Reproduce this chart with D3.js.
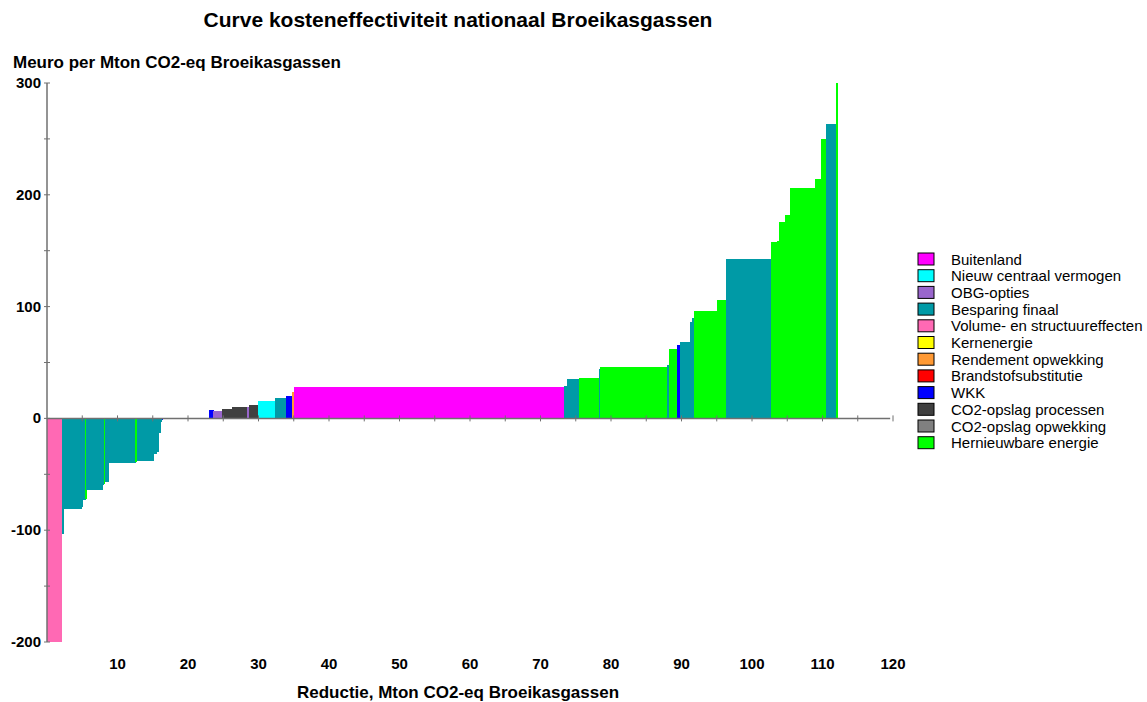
<!DOCTYPE html>
<html><head><meta charset="utf-8">
<script src="https://cdn.jsdelivr.net/npm/d3@7"></script>
<style>body{margin:0;background:#fff;overflow:hidden}svg{display:block;font-family:"Liberation Sans",Arial,sans-serif}</style>
</head><body><svg id="c" width="1147" height="702"></svg>
<script>
const categories = ["Buitenland","Nieuw centraal vermogen","OBG-opties","Besparing finaal","Volume- en structuureffecten","Kernenergie","Rendement opwekking","Brandstofsubstitutie","WKK","CO2-opslag processen","CO2-opslag opwekking","Hernieuwbare energie"];
const categoryColors = ["#FF00FF","#00FFFF","#9966CC","#009AA6","#FF69B4","#FFFF00","#FF9933","#FF0000","#0000FF","#404040","#808080","#00FF00"];
// Each bar: reduction (Mton CO2-eq), cost (Meuro/Mton), category index
const barReduction = [2.1,0.2,2.6,0.2,0.35,0.15,2.3,0.15,0.15,0.6,3.75,0.15,2.4,0.4,0.3,0.3,0.2,0.1,6.6,0.6,1.2,1.4,2.1,0.3,1.3,2.4,1.6,0.9,0.2,38.3,0.4,1.7,2.9,0.2,9.5,0.2,1.1,0.5,1.4,0.3,0.3,3.3,1.2,6.4,0.8,0.3,0.9,0.7,3.5,0.9,0.7,1.4,0.2];
const barCost = [-200,-103,-80.6,-79,-73,-72,-64,-60,-59,-57,-39.7,-39,-38.5,-31.5,-30,-13,-3,-1,0,7.2,7,8.6,9.8,10,11.6,15.2,18.5,19.7,23.5,28,29,35,36.4,44.5,46,48,62,66,68,86,90,95.8,105.6,142.3,157.5,159,176,182,206,214,250,263,300];
const barCategory = [4,3,3,3,3,11,3,3,11,3,3,11,3,3,3,3,3,8,3,8,2,9,9,2,9,1,3,8,6,0,3,3,11,3,11,3,11,8,3,3,3,11,11,3,11,11,11,11,11,11,11,3,11];
const xTicks = [10,20,30,40,50,60,70,80,90,100,110,120];
const yTicks = [-200,-100,0,100,200,300];

const svg = d3.select("#c");
const x = d3.scaleLinear().domain([0,120]).range([47,893]);
const y = d3.scaleLinear().domain([-200,300]).range([642,83]);

let cum = 0;
const bars = barReduction.map((w,i)=>{const b={x0:cum,x1:cum+w,v:barCost[i],c:barCategory[i]};cum+=w;return b;});

svg.append("g").attr("shape-rendering","crispEdges").selectAll("rect").data(bars.filter(b=>b.v!==0)).join("rect")
  .attr("x",d=>x(d.x0)).attr("width",d=>Math.max(1,x(d.x1)-x(d.x0)+0.4))
  .attr("y",d=>Math.min(y(d.v),y(0))).attr("height",d=>Math.abs(y(d.v)-y(0)))
  .attr("fill",d=>categoryColors[d.c]);

const axCol="#707070";
svg.append("line").attr("x1",x(0)).attr("x2",x(0)).attr("y1",y(300)).attr("y2",y(-200)).attr("stroke",axCol).attr("stroke-width",1.5);
svg.append("line").attr("x1",x(0)).attr("x2",x(119.6)).attr("y1",y(0)).attr("y2",y(0)).attr("stroke",axCol).attr("stroke-width",1.5);
svg.append("g").selectAll("line").data(d3.range(-200,301,50)).join("line")
  .attr("x1",x(0)-3).attr("x2",x(0)+3).attr("y1",d=>y(d)).attr("y2",d=>y(d)).attr("stroke",axCol);
svg.append("g").selectAll("line").data(d3.range(5,121,5)).join("line")
  .attr("x1",d=>x(d)).attr("x2",d=>x(d)).attr("y1",y(0)-3).attr("y2",y(0)+3).attr("stroke",axCol);

svg.append("g").selectAll("text").data(yTicks).join("text")
  .attr("x",41).attr("y",d=>y(d)+5).attr("text-anchor","end")
  .attr("font-size",15).attr("font-weight","bold").text(d=>d);
svg.append("g").selectAll("text").data(xTicks).join("text")
  .attr("x",d=>x(d)).attr("y",669).attr("text-anchor","middle")
  .attr("font-size",15).attr("font-weight","bold").text(d=>d);

svg.append("text").attr("x",458).attr("y",27).attr("text-anchor","middle").attr("font-size",21).attr("font-weight","bold")
  .text("Curve kosteneffectiviteit nationaal Broeikasgassen");
svg.append("text").attr("x",13).attr("y",68).attr("font-size",17).attr("font-weight","bold")
  .text("Meuro per Mton CO2-eq Broeikasgassen");
svg.append("text").attr("x",458).attr("y",698).attr("text-anchor","middle").attr("font-size",17).attr("font-weight","bold")
  .text("Reductie, Mton CO2-eq Broeikasgassen");

const lg = svg.append("g").selectAll("g").data(categories).join("g")
  .attr("transform",(d,i)=>`translate(918,${253+i*16.7})`);
lg.append("rect").attr("width",16).attr("height",12).attr("fill",(d,i)=>categoryColors[i]).attr("stroke","#000").attr("stroke-width",1);
lg.append("text").attr("x",33).attr("y",11.5).attr("font-size",15).text(d=>d);
</script></body></html>
